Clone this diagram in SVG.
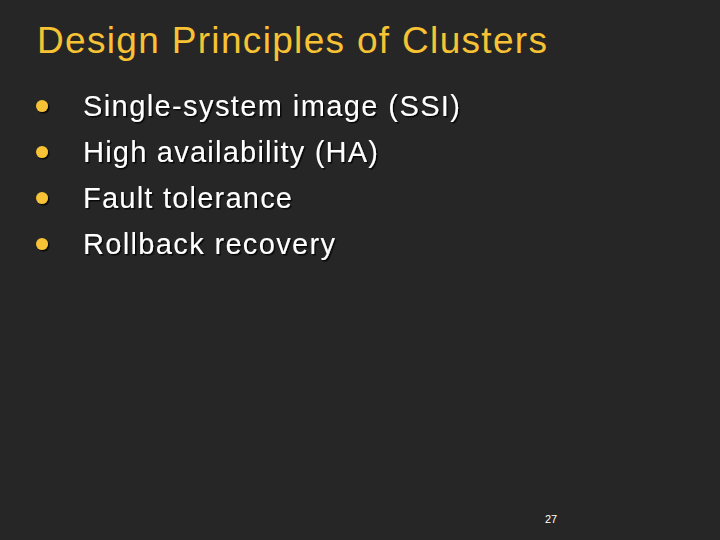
<svg xmlns="http://www.w3.org/2000/svg" width="720" height="540" viewBox="0 0 720 540">
<style>
.t{font-family:"Liberation Sans",Arial,sans-serif}
.b{fill:#fff;font-size:29px}
.d{fill:#f7c234}
</style>
<defs><filter id="s"><feDropShadow dx="1.5" dy="1.5" stdDeviation="0.6" flood-color="#000" flood-opacity="0.8"/></filter></defs>
<rect width="720" height="540" fill="#262626"/>
<text class="t" x="37" y="53" font-size="37" fill="#f7c234" textLength="510" lengthAdjust="spacing">Design Principles of Clusters</text>
<g filter="url(#s)">
<circle class="d" cx="42" cy="106" r="6"/>
<circle class="d" cx="42" cy="152" r="6"/>
<circle class="d" cx="42" cy="198" r="6"/>
<circle class="d" cx="42" cy="244" r="6"/>
<text class="t b" x="83" y="116" textLength="377" lengthAdjust="spacing">Single-system image (SSI)</text>
<text class="t b" x="83" y="162" textLength="295" lengthAdjust="spacing">High availability (HA)</text>
<text class="t b" x="83" y="208" textLength="209" lengthAdjust="spacing">Fault tolerance</text>
<text class="t b" x="83" y="254" textLength="252" lengthAdjust="spacing">Rollback recovery</text>
</g>
<text class="t" x="545" y="523" font-size="11" fill="#fff">27</text>
</svg>
